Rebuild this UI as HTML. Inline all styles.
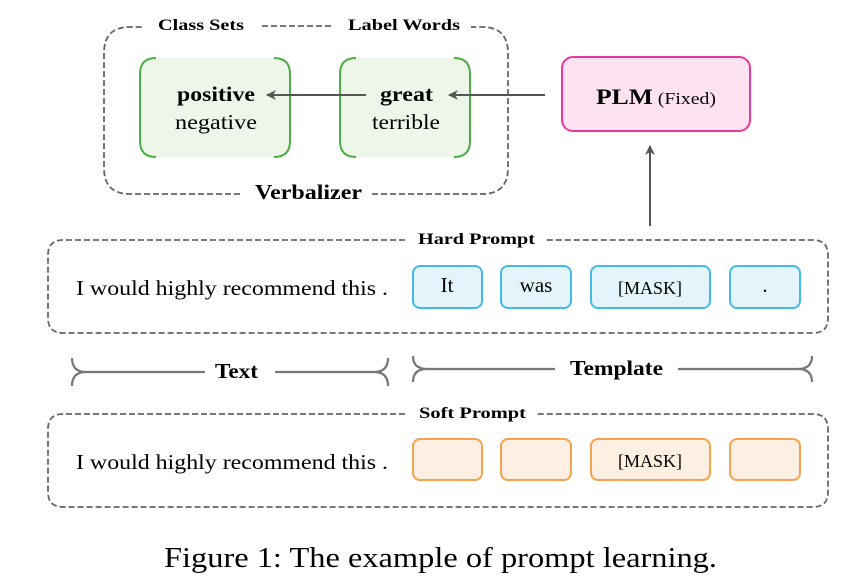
<!DOCTYPE html>
<html><head><meta charset="utf-8"><style>
html,body{margin:0;padding:0;background:#fff;}
svg{display:block;font-family:"Liberation Serif",serif;}
</style></head><body>
<svg width="863" height="581" viewBox="0 0 863 581" xmlns="http://www.w3.org/2000/svg">
<defs>
<marker id="ah" markerWidth="12" markerHeight="12" refX="9" refY="5" orient="auto" markerUnits="userSpaceOnUse">
<path d="M0,0 L10,5 L0,10 L3,5 Z" fill="#555"/>
</marker>
</defs>
<g fill="none" stroke="#666" stroke-width="1.8" stroke-dasharray="6,3">
<path d="M240,194 H130 Q104,194 104,168 V53 Q104,27 130,27 H143"/>
<path d="M372,194 H482 Q508,194 508,168 V53 Q508,27 482,27 H471"/>
<path d="M262,26 H333"/>
<path d="M405,240 H63 Q48,240 48,255 V318 Q48,333 63,333 H813 Q828,333 828,318 V255 Q828,240 813,240 H545"/>
<path d="M405,414 H63 Q48,414 48,429 V492 Q48,507 63,507 H813 Q828,507 828,492 V429 Q828,414 813,414 H535"/>
</g>
<text x="158" y="30" font-size="16" font-weight="bold" textLength="86" lengthAdjust="spacingAndGlyphs">Class Sets</text>
<text x="348" y="30" font-size="16" font-weight="bold" textLength="112" lengthAdjust="spacingAndGlyphs">Label Words</text>
<text x="255" y="199" font-size="21" font-weight="bold" textLength="107" lengthAdjust="spacingAndGlyphs">Verbalizer</text>
<rect x="140" y="58" width="150" height="99" rx="16" fill="#edf6e8"/>
<rect x="340" y="58" width="130" height="99" rx="16" fill="#edf6e8"/>
<g fill="none" stroke="#4cae47" stroke-width="2">
<path d="M156,58 Q140,58 140,74 V141 Q140,157 156,157"/>
<path d="M274,58 Q290,58 290,74 V141 Q290,157 274,157"/>
<path d="M356,58 Q340,58 340,74 V141 Q340,157 356,157"/>
<path d="M454,58 Q470,58 470,74 V141 Q470,157 454,157"/>
</g>
<text x="177" y="101" font-size="21" font-weight="bold" textLength="78" lengthAdjust="spacingAndGlyphs">positive</text>
<text x="175" y="129" font-size="21" textLength="82" lengthAdjust="spacingAndGlyphs">negative</text>
<text x="380" y="101" font-size="21" font-weight="bold" textLength="53" lengthAdjust="spacingAndGlyphs">great</text>
<text x="372" y="129" font-size="21" textLength="68" lengthAdjust="spacingAndGlyphs">terrible</text>
<rect x="562" y="57" width="188" height="74" rx="11" fill="#fde3f1" stroke="#e9389a" stroke-width="2"/>
<text x="596" y="104" textLength="120" lengthAdjust="spacingAndGlyphs"><tspan font-size="22" font-weight="bold">PLM</tspan><tspan font-size="17"> (Fixed)</tspan></text>
<g stroke="#555" stroke-width="2" fill="none">
<line x1="545" y1="95" x2="449" y2="95" marker-end="url(#ah)"/>
<line x1="366" y1="95" x2="267" y2="95" marker-end="url(#ah)"/>
<line x1="650" y1="226" x2="650" y2="146" marker-end="url(#ah)"/>
</g>
<text x="418" y="244" font-size="16" font-weight="bold" textLength="117" lengthAdjust="spacingAndGlyphs">Hard Prompt</text>
<text x="419" y="418" font-size="16" font-weight="bold" textLength="107" lengthAdjust="spacingAndGlyphs">Soft Prompt</text>
<text x="76" y="295" font-size="21" textLength="312" lengthAdjust="spacingAndGlyphs">I would highly recommend this .</text>
<text x="76" y="469" font-size="21" textLength="312" lengthAdjust="spacingAndGlyphs">I would highly recommend this .</text>
<g fill="#e3f4fb" stroke="#44b9ec" stroke-width="2">
<rect x="413" y="266" width="69" height="42" rx="7"/>
<rect x="501" y="266" width="70" height="42" rx="7"/>
<rect x="591" y="266" width="119" height="42" rx="7"/>
<rect x="730" y="266" width="70" height="42" rx="7"/>
</g>
<text x="447" y="292" font-size="21" text-anchor="middle">It</text>
<text x="536" y="292" font-size="21" text-anchor="middle">was</text>
<text x="650" y="294" font-size="18" text-anchor="middle">[MASK]</text>
<text x="765" y="292" font-size="21" text-anchor="middle">.</text>
<g fill="#fdefe1" stroke="#f7a24c" stroke-width="2">
<rect x="413" y="439" width="69" height="41" rx="7"/>
<rect x="501" y="439" width="70" height="41" rx="7"/>
<rect x="591" y="439" width="119" height="41" rx="7"/>
<rect x="730" y="439" width="70" height="41" rx="7"/>
</g>
<text x="650" y="467" font-size="18" text-anchor="middle">[MASK]</text>
<g fill="none" stroke="#777" stroke-width="2.2">
<path d="M72,358 Q72,372 86,372 H205"/>
<path d="M72,386 Q72,372 86,372"/>
<path d="M275,372 H374 Q388,372 388,358"/>
<path d="M374,372 Q388,372 388,386"/>
<path d="M413,356 Q413,369 427,369 H555"/>
<path d="M413,382 Q413,369 427,369"/>
<path d="M678,369 H798 Q812,369 812,356"/>
<path d="M798,369 Q812,369 812,382"/>
</g>
<text x="215" y="378" font-size="21" font-weight="bold" textLength="43" lengthAdjust="spacingAndGlyphs">Text</text>
<text x="570" y="375" font-size="21" font-weight="bold" textLength="93" lengthAdjust="spacingAndGlyphs">Template</text>
<text x="164" y="567" font-size="29" textLength="553" lengthAdjust="spacingAndGlyphs">Figure 1: The example of prompt learning.</text>
</svg>
</body></html>
